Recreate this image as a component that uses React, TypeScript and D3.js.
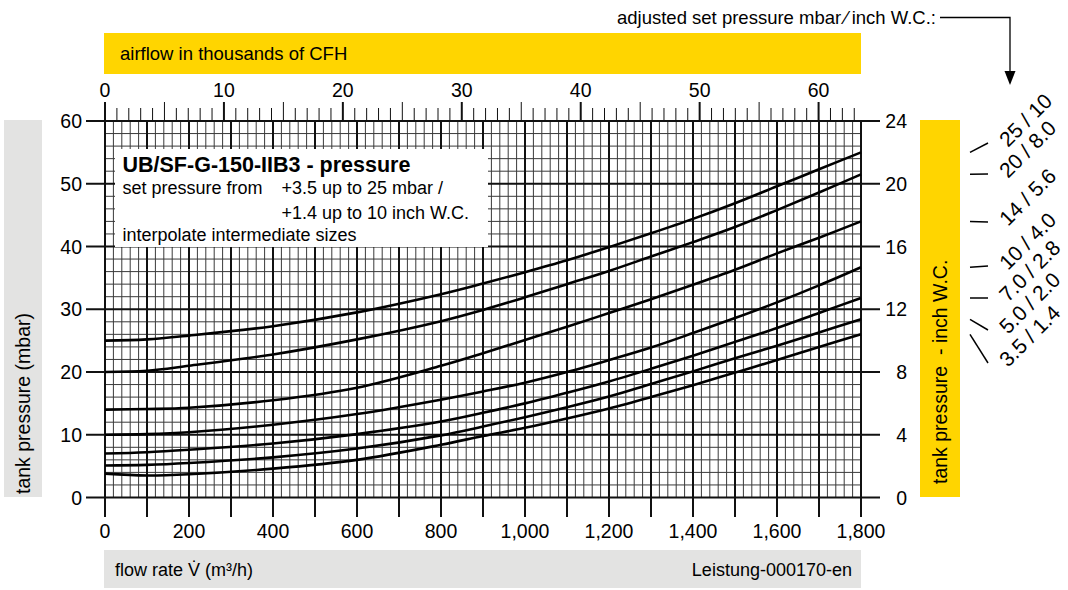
import { useRef, useEffect } from 'react';
import * as d3 from 'd3';

// flow rate in m³/h (x values of every curve)
const flowRate = [0, 100, 200, 400, 600, 800, 900, 1000, 1100, 1200, 1300, 1400, 1500, 1600, 1700, 1800];

// tank pressure in mbar, one array per set pressure
const p25 = [25.0, 25.2, 25.8, 27.3, 29.5, 32.4, 34.1, 35.9, 37.8, 39.9, 42.1, 44.4, 46.9, 49.6, 52.3, 55.0];
const p20 = [20.0, 20.2, 21.0, 22.8, 25.2, 28.1, 29.9, 31.9, 34.0, 36.1, 38.4, 40.7, 43.1, 45.8, 48.6, 51.5];
const p14 = [14.0, 14.1, 14.3, 15.5, 17.5, 21.0, 23.0, 25.1, 27.2, 29.4, 31.6, 33.9, 36.3, 38.9, 41.4, 44.0];
const p10 = [10.0, 10.1, 10.4, 11.6, 13.3, 15.6, 16.9, 18.3, 20.0, 21.9, 23.9, 26.2, 28.6, 31.1, 33.8, 36.7];
const p7 = [7.0, 7.2, 7.6, 8.6, 10.1, 12.1, 13.5, 15.0, 16.7, 18.5, 20.5, 22.6, 24.8, 27.0, 29.4, 31.8];
const p5 = [5.1, 5.2, 5.5, 6.4, 7.8, 9.9, 11.3, 12.8, 14.4, 16.1, 18.1, 20.1, 22.2, 24.2, 26.3, 28.4];
const p35 = [3.8, 3.5, 3.7, 4.6, 6.0, 8.4, 9.8, 11.1, 12.6, 14.2, 16.0, 17.9, 19.9, 21.9, 24.0, 26.0];

const seriesList = [p25, p20, p14, p10, p7, p5, p35];
const setLabels = ['25 / 10', '20 / 8.0', '14 / 5.6', '10 / 4.0', '7.0 / 2.8', '5.0 / 2.0', '3.5 / 1.4'];

// axis ticks
const mbarTicks = [0, 10, 20, 30, 40, 50, 60];
const inchTicks = [0, 4, 8, 12, 16, 20, 24];
const cfhLabels = [0, 10, 20, 30, 40, 50, 60];

// texts
const titleText = 'UB/SF-G-150-IIB3 - pressure';
const noteLines = ['set pressure from', '+3.5 up to 25 mbar /', '+1.4 up to 10 inch W.C.', 'interpolate intermediate sizes'];

const FONT = "'Liberation Sans', Arial, Helvetica, sans-serif";
const YELLOW = '#ffd500';
const GREY = '#e3e3e2';

export default function App() {
  const svgRef = useRef<SVGSVGElement | null>(null);

  useEffect(() => {
    const svg = d3.select(svgRef.current);
    svg.selectAll('*').remove();
    svg.attr('width', 1068).attr('height', 590).style('font-family', FONT);

    const left = 105, right = 861, top = 121, bottom = 497.5;

    const x = d3.scaleLinear().domain([0, 1800]).range([left, right]);
    const y = d3.scaleLinear().domain([0, 60]).range([bottom, top]);
    const yInch = d3.scaleLinear().domain([0, 24]).range([bottom, top]);
    // 1 m³/h = 35.3147 CFH
    const xCfh = d3.scaleLinear().domain([0, 1800 * 35.3147 / 1000]).range([left, right]);

    svg.append('rect').attr('width', 1068).attr('height', 590).attr('fill', '#fff');

    // coloured label bars
    svg.append('rect').attr('x', 104).attr('y', 33).attr('width', 757).attr('height', 41).attr('fill', YELLOW);
    svg.append('rect').attr('x', 4).attr('y', 120).attr('width', 38).attr('height', 377).attr('fill', GREY);
    svg.append('rect').attr('x', 920).attr('y', 120).attr('width', 40).attr('height', 377).attr('fill', YELLOW);
    svg.append('rect').attr('x', 104).attr('y', 550).attr('width', 757).attr('height', 38).attr('fill', GREY);

    svg.append('text').attr('x', 120).attr('y', 60).style('font-size', '18.5px').text('airflow in thousands of CFH');
    svg.append('text').attr('x', 115).attr('y', 576).style('font-size', '18px').text('flow rate V\u0307 (m³/h)');
    svg.append('text').attr('x', 852).attr('y', 576).attr('text-anchor', 'end').style('font-size', '18px').text('Leistung-000170-en');
    svg.append('text').attr('transform', 'translate(30,494) rotate(-90)').style('font-size', '19.5px').text('tank pressure (mbar)');
    svg.append('text').attr('transform', 'translate(947,484) rotate(-90)').style('font-size', '19.5px')
      .style('white-space', 'pre').text('tank pressure  - inch W.C.');

    // grid
    const grid = svg.append('g');
    d3.range(0, 1801, 20).filter(v => v % 100 !== 0).forEach(v => {
      grid.append('line').attr('x1', x(v)).attr('x2', x(v)).attr('y1', top).attr('y2', bottom)
        .attr('stroke', '#3a3a3a').attr('stroke-width', 1);
    });
    d3.range(0, 61, 2).filter(v => v % 10 !== 0).forEach(v => {
      grid.append('line').attr('x1', left).attr('x2', right).attr('y1', y(v)).attr('y2', y(v))
        .attr('stroke', '#3a3a3a').attr('stroke-width', 1);
    });
    d3.range(0, 1801, 100).forEach(v => {
      grid.append('line').attr('x1', x(v)).attr('x2', x(v)).attr('y1', top).attr('y2', bottom)
        .attr('stroke', '#111').attr('stroke-width', 2);
    });
    d3.range(0, 61, 10).forEach(v => {
      grid.append('line').attr('x1', left).attr('x2', right).attr('y1', y(v)).attr('y2', y(v))
        .attr('stroke', '#111').attr('stroke-width', 2);
    });

    // left axis (mbar)
    mbarTicks.forEach(v => {
      svg.append('line').attr('x1', 86).attr('x2', left).attr('y1', y(v)).attr('y2', y(v))
        .attr('stroke', '#111').attr('stroke-width', 2);
      svg.append('text').attr('x', 82).attr('y', y(v) + 7).attr('text-anchor', 'end')
        .style('font-size', '19.5px').text(v);
    });

    // right axis (inch W.C.)
    inchTicks.forEach(v => {
      svg.append('line').attr('x1', right).attr('x2', 880).attr('y1', yInch(v)).attr('y2', yInch(v))
        .attr('stroke', '#111').attr('stroke-width', 2);
      svg.append('text').attr('x', 907).attr('y', yInch(v) + 7).attr('text-anchor', 'end')
        .style('font-size', '19.5px').text(v);
    });

    // bottom axis (m³/h)
    d3.range(0, 1801, 100).forEach(v => {
      svg.append('line').attr('x1', x(v)).attr('x2', x(v)).attr('y1', bottom).attr('y2', 517)
        .attr('stroke', '#111').attr('stroke-width', 2);
    });
    d3.range(0, 1801, 200).forEach(v => {
      svg.append('text').attr('x', x(v)).attr('y', 538).attr('text-anchor', 'middle')
        .style('font-size', '19.5px').text(d3.format(',')(v));
    });

    // top axis (thousands of CFH)
    d3.range(0, 64, 1).forEach(v => {
      const major = v % 10 === 0;
      const mid = v % 5 === 0;
      svg.append('line').attr('x1', xCfh(v)).attr('x2', xCfh(v)).attr('y1', top)
        .attr('y2', major || mid ? 102 : 108)
        .attr('stroke', '#111').attr('stroke-width', major ? 2 : 1);
    });
    cfhLabels.forEach(v => {
      svg.append('text').attr('x', xCfh(v)).attr('y', 97).attr('text-anchor', 'middle')
        .style('font-size', '19.5px').text(v);
    });

    // note box
    svg.append('rect').attr('x', 115).attr('y', 149).attr('width', 373).attr('height', 98).attr('fill', '#fff');
    svg.append('text').attr('x', 122.5).attr('y', 171.5).style('font-size', '21.5px').style('font-weight', 'bold')
      .text(titleText);
    svg.append('text').attr('x', 122.5).attr('y', 193.5).style('font-size', '18px').text(noteLines[0]);
    svg.append('text').attr('x', 281.5).attr('y', 193.5).style('font-size', '18px').text(noteLines[1]);
    svg.append('text').attr('x', 281.5).attr('y', 218.5).style('font-size', '18px').text(noteLines[2]);
    svg.append('text').attr('x', 122.5).attr('y', 240.5).style('font-size', '18px').text(noteLines[3]);

    // curves
    const line = d3.line<[number, number]>()
      .x(d => x(d[0]))
      .y(d => y(d[1]))
      .curve(d3.curveCatmullRom.alpha(0.5));
    seriesList.forEach(s => {
      svg.append('path')
        .attr('d', line(flowRate.map((f, i) => [f, s[i]] as [number, number])))
        .attr('fill', 'none').attr('stroke', '#000').attr('stroke-width', 2.6)
        .attr('stroke-linejoin', 'round');
    });

    // set pressure labels on the right
    const labelY = [143, 174, 222, 266, 298, 330, 363];
    seriesList.forEach((s, i) => {
      svg.append('line')
        .attr('x1', 970).attr('y1', y(s[s.length - 1]))
        .attr('x2', 988).attr('y2', labelY[i])
        .attr('stroke', '#000').attr('stroke-width', 1.5);
      svg.append('text')
        .attr('transform', `translate(1008,${labelY[i] + 5}) rotate(-45)`)
        .style('font-size', '21px')
        .text(setLabels[i]);
    });

    // header with arrow
    svg.append('text').attr('x', 617).attr('y', 24).style('font-size', '18.5px')
      .text('adjusted set pressure mbar\u2009\u2044\u2009inch W.C.:');
    svg.append('path').attr('d', 'M940,17.5H1010V73').attr('fill', 'none')
      .attr('stroke', '#000').attr('stroke-width', 1.3);
    svg.append('path').attr('d', 'M1004.5,71L1015.5,71L1010,85Z').attr('fill', '#000');
  }, []);

  return (
    <div style={{ position: 'absolute', left: 0, top: 0 }}>
      <svg ref={svgRef}></svg>
    </div>
  );
}
